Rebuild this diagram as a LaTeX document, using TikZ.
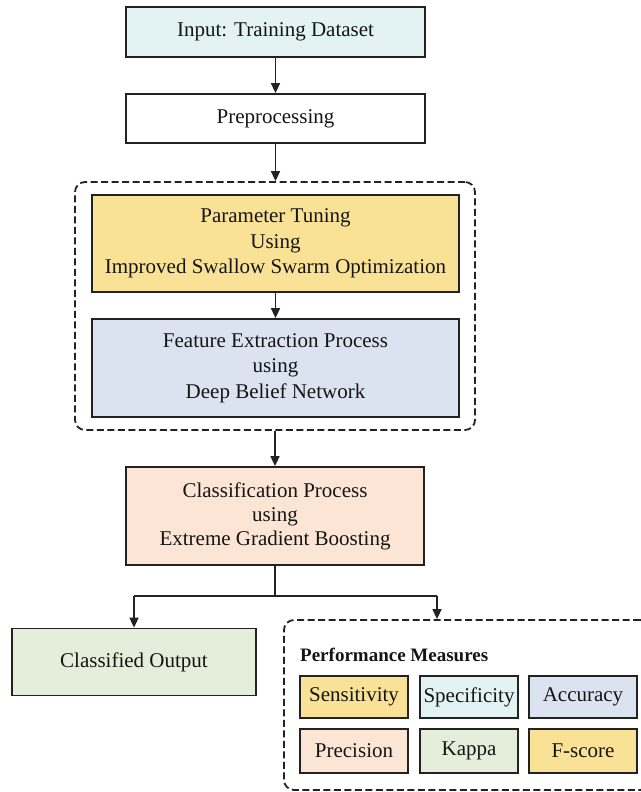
\documentclass[tikz,border=0pt]{standalone}
\usepackage{fontspec}
\setmainfont{Liberation Serif}
\usetikzlibrary{arrows.meta}
\definecolor{inputc}{HTML}{E3F3F3}
\definecolor{paramc}{HTML}{F9E296}
\definecolor{featc}{HTML}{DBE3F1}
\definecolor{classc}{HTML}{FCE5D4}
\definecolor{outc}{HTML}{E4EEDA}
\definecolor{linec}{HTML}{222222}
\definecolor{textc}{HTML}{151515}
\begin{document}
\begin{tikzpicture}[x=1pt,y=-1pt,
  box/.style={draw=linec, line width=1.8pt, text=textc, align=center,
    font=\fontsize{21}{25.5}\selectfont, inner sep=0pt},
  smallbox/.style={box, minimum height=42pt},
  dashbox/.style={draw=linec, line width=1.8pt, dash pattern=on 7pt off 3.5pt,
    rounded corners=10pt, inner sep=0pt},
  conn/.style={draw=linec, line width=1.6pt},
  arr/.style={conn, -{Triangle[length=10pt,width=9pt]}},
]
\useasboundingbox (0,0) rectangle (640,792);
% top boxes
\node[box, fill=inputc, minimum width=299pt, minimum height=50pt] (input) at (275.5,32) {Input: Training Dataset};
\node[box, fill=white, minimum width=299pt, minimum height=49pt] (prep) at (275.5,118.5) {Preprocessing};
% group
\node[dashbox, minimum width=400pt, minimum height=248pt] (grp) at (275,306) {};
\node[box, fill=paramc, minimum width=367pt, minimum height=97pt] (param) at (275.5,243.5)
  {Parameter Tuning\\Using\\Improved Swallow Swarm Optimization};
\node[box, fill=featc, minimum width=367pt, minimum height=98pt] (feat) at (275.5,368)
  {Feature Extraction Process\\using\\Deep Belief Network};
% classification
\node[box, fill=classc, minimum width=298pt, minimum height=98pt, font=\fontsize{21}{24}\selectfont] (cls) at (275,516)
  {Classification Process\\using\\Extreme Gradient Boosting};
% outputs
\node[box, fill=outc, minimum width=244pt, minimum height=67pt] (out) at (134,662) {Classified Output};
\node[dashbox, minimum width=366pt, minimum height=170pt] (perf) at (467,705) {};
\node[anchor=west, inner sep=0pt, text=textc, font=\fontsize{19}{22}\selectfont\bfseries] (ptitle) at (300,655) {Performance Measures};
\node[smallbox, fill=paramc, minimum width=108pt] (sens) at (354,697) {Sensitivity};
\node[smallbox, fill=inputc, minimum width=98pt] (spec) at (469,697) {Specificity};
\node[smallbox, fill=featc, minimum width=108pt] (acc) at (583,697) {Accuracy};
\node[smallbox, fill=classc, minimum width=108pt, minimum height=44pt] (prec) at (354,751) {Precision};
\node[smallbox, fill=outc, minimum width=98pt, minimum height=44pt] (kappa) at (469,751) {Kappa};
\node[smallbox, fill=paramc, minimum width=108pt, minimum height=44pt] (fscore) at (583,751) {F-score};
% connectors
\draw[arr] (input) -- (prep);
\draw[arr] (prep.south) -- (prep.south |- grp.north);
\draw[arr] (param) -- (feat);
\draw[arr] (grp.south) -- (grp.south |- cls.north);
\coordinate (bl) at (134,596);
\coordinate (brr) at (437,596);
\draw[conn] (cls.south) -- (cls.south |- bl);
\draw[conn] (bl) -- (brr);
\draw[arr] (bl) -- (out.north);
\draw[arr] (brr) -- (brr |- perf.north);
\end{tikzpicture}
\end{document}
